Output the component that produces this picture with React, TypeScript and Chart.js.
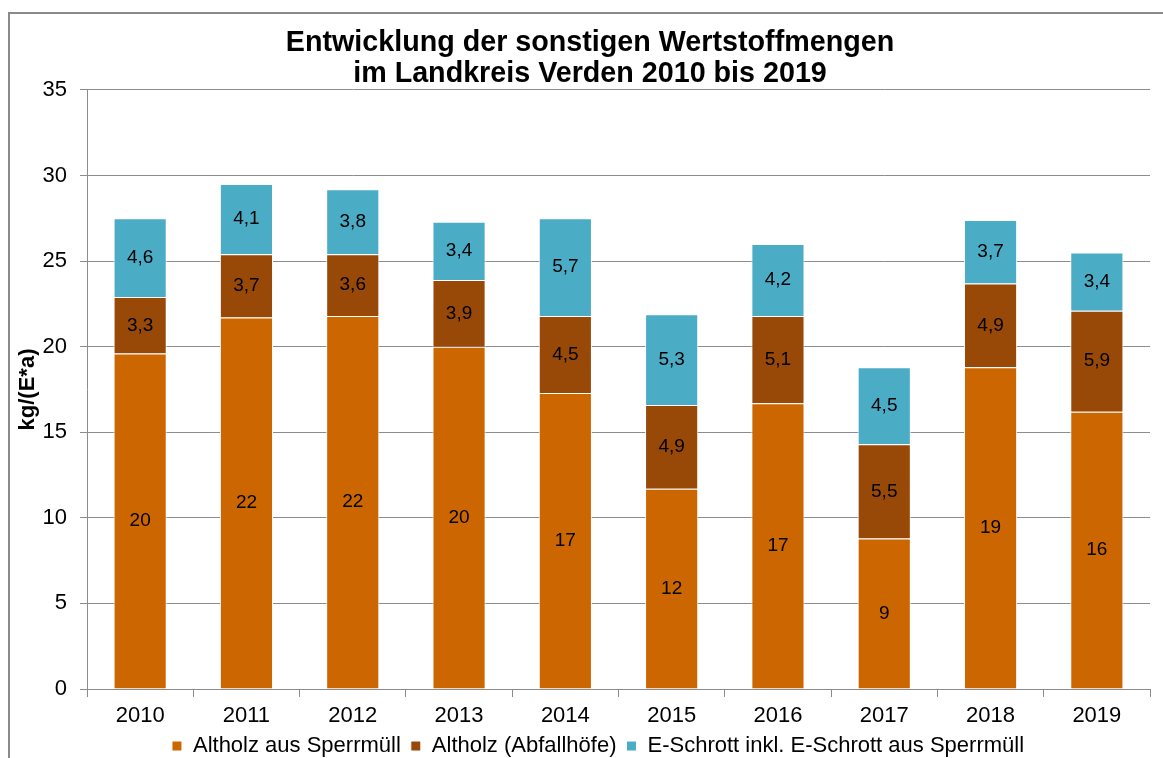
import React, { useEffect, useRef } from "react";
import { Chart, registerables } from "chart.js";

Chart.register(...registerables);

const years = ["2010", "2011", "2012", "2013", "2014", "2015", "2016", "2017", "2018", "2019"];
const altholzSperrmuell = [19.6, 21.7, 21.8, 20.0, 17.3, 11.7, 16.7, 8.8, 18.8, 16.2];
const altholzAbfallhoefe = [3.3, 3.7, 3.6, 3.9, 4.5, 4.9, 5.1, 5.5, 4.9, 5.9];
const eSchrott = [4.6, 4.1, 3.8, 3.4, 5.7, 5.3, 4.2, 4.5, 3.7, 3.4];
const seriesNames = [
  "Altholz aus Sperrmüll",
  "Altholz (Abfallhöfe)",
  "E-Schrott inkl. E-Schrott aus Sperrmüll",
];
const seriesColors = ["#CC6600", "#984807", "#4BACC6"];
const titleLines = ["Entwicklung der sonstigen Wertstoffmengen", "im Landkreis Verden 2010 bis 2019"];
const yAxisTitle = "kg/(E*a)";
const yMin = 0;
const yMax = 35;
const yStep = 5;

const FONT = "'Liberation Sans', Arial, sans-serif";
const CANVAS_W = 1153;
const CANVAS_H = 744;
const X_AXIS_H = 36;
const LEGEND_H = 33;
const TITLE_SHIFT_X = 10;
const LEGEND_SHIFT_X = 18;

const valueLabels = {
  id: "valueLabels",
  afterDatasetsDraw(chart: any) {
    const ctx = chart.ctx;
    ctx.save();
    ctx.font = `19px ${FONT}`;
    ctx.fillStyle = "#000";
    ctx.textAlign = "center";
    ctx.textBaseline = "middle";
    chart.data.datasets.forEach((ds: any, i: number) => {
      const meta = chart.getDatasetMeta(i);
      if (meta.hidden) return;
      meta.data.forEach((el: any, j: number) => {
        const v = ds.data[j] as number;
        const { x, y, base } = el.getProps(["x", "y", "base"], true);
        const txt = i === 0 ? String(Math.round(v)) : v.toFixed(1).replace(".", ",");
        ctx.fillText(txt, x, (y + base) / 2);
      });
    });
    ctx.restore();
  },
};

const boxTweaks = {
  id: "boxTweaks",
  afterInit(chart: any) {
    const lg = chart.legend;
    if (lg && !lg.__patched) {
      const origFit = lg.fit.bind(lg);
      lg.fit = function () {
        origFit();
        this.height = LEGEND_H;
      };
      const origDraw = lg.draw.bind(lg);
      lg.draw = function () {
        const ctx = this.ctx;
        ctx.save();
        ctx.translate(LEGEND_SHIFT_X, 0);
        origDraw();
        ctx.restore();
      };
      lg.__patched = true;
    }
    const tb = chart.titleBlock;
    if (tb && !tb.__patched) {
      const origDraw = tb.draw.bind(tb);
      tb.draw = function () {
        const ctx = this.ctx;
        ctx.save();
        ctx.translate(TITLE_SHIFT_X, 0);
        origDraw();
        ctx.restore();
      };
      tb.__patched = true;
    }
  },
};

export default function App() {
  const ref = useRef<HTMLCanvasElement | null>(null);

  useEffect(() => {
    if (!ref.current) return;
    const data = [altholzSperrmuell, altholzAbfallhoefe, eSchrott];
    const chart = new Chart(ref.current, {
      type: "bar",
      data: {
        labels: years,
        datasets: data.map((d, i) => ({
          label: seriesNames[i],
          data: d,
          backgroundColor: seriesColors[i],
          borderColor: "#ffffff",
          borderWidth: 1,
          barPercentage: 0.5,
          categoryPercentage: 1,
        })),
      },
      options: {
        animation: false,
        responsive: false,
        maintainAspectRatio: false,
        layout: { padding: { left: 0, right: 13, top: 0, bottom: 0 } },
        plugins: {
          tooltip: { enabled: false },
          title: {
            display: true,
            text: titleLines,
            color: "#000",
            font: { family: FONT, size: 28.7, weight: "bold", lineHeight: 1.08 },
            padding: { top: 14, bottom: 0 },
          },
          legend: {
            position: "bottom",
            labels: {
              color: "#000",
              font: { family: FONT, size: 22 },
              boxWidth: 10,
              boxHeight: 10,
              padding: 10,
            },
          },
        },
        scales: {
          x: {
            stacked: true,
            grid: {
              display: true,
              drawOnChartArea: false,
              drawTicks: true,
              tickLength: 8,
              color: "#8c8c8c",
              offset: true,
            },
            border: { display: true, color: "#8c8c8c", width: 1 },
            ticks: { color: "#000", font: { family: FONT, size: 22 }, padding: 6 },
            afterFit: (s: any) => {
              s.height = X_AXIS_H;
            },
          },
          y: {
            stacked: true,
            min: yMin,
            max: yMax,
            ticks: { stepSize: yStep, color: "#000", font: { family: FONT, size: 22 }, padding: 13 },
            grid: { color: "#8c8c8c", tickLength: 7, lineWidth: 1 },
            border: { display: true, color: "#8c8c8c", width: 1 },
            title: {
              display: true,
              text: yAxisTitle,
              color: "#000",
              font: { family: FONT, size: 22, weight: "bold" },
              padding: { top: 5, bottom: 0 },
            },
            afterFit: (s: any) => {
              s.width = 77;
            },
          },
        },
      },
      plugins: [boxTweaks, valueLabels],
    });
    return () => chart.destroy();
  }, []);

  return (
    <div style={{ position: "fixed", left: 0, top: 0, width: 1163, height: 758, overflow: "hidden", background: "#fff" }}>
      <div
        style={{
          position: "absolute",
          left: 8,
          top: 12,
          borderTop: "2px solid #8a8a8a",
          borderLeft: "2px solid #8a8a8a",
          width: CANVAS_W,
          height: CANVAS_H,
        }}
      >
        <canvas
          ref={ref}
          width={CANVAS_W}
          height={CANVAS_H}
          style={{ display: "block", width: CANVAS_W, height: CANVAS_H }}
        />
      </div>
    </div>
  );
}
